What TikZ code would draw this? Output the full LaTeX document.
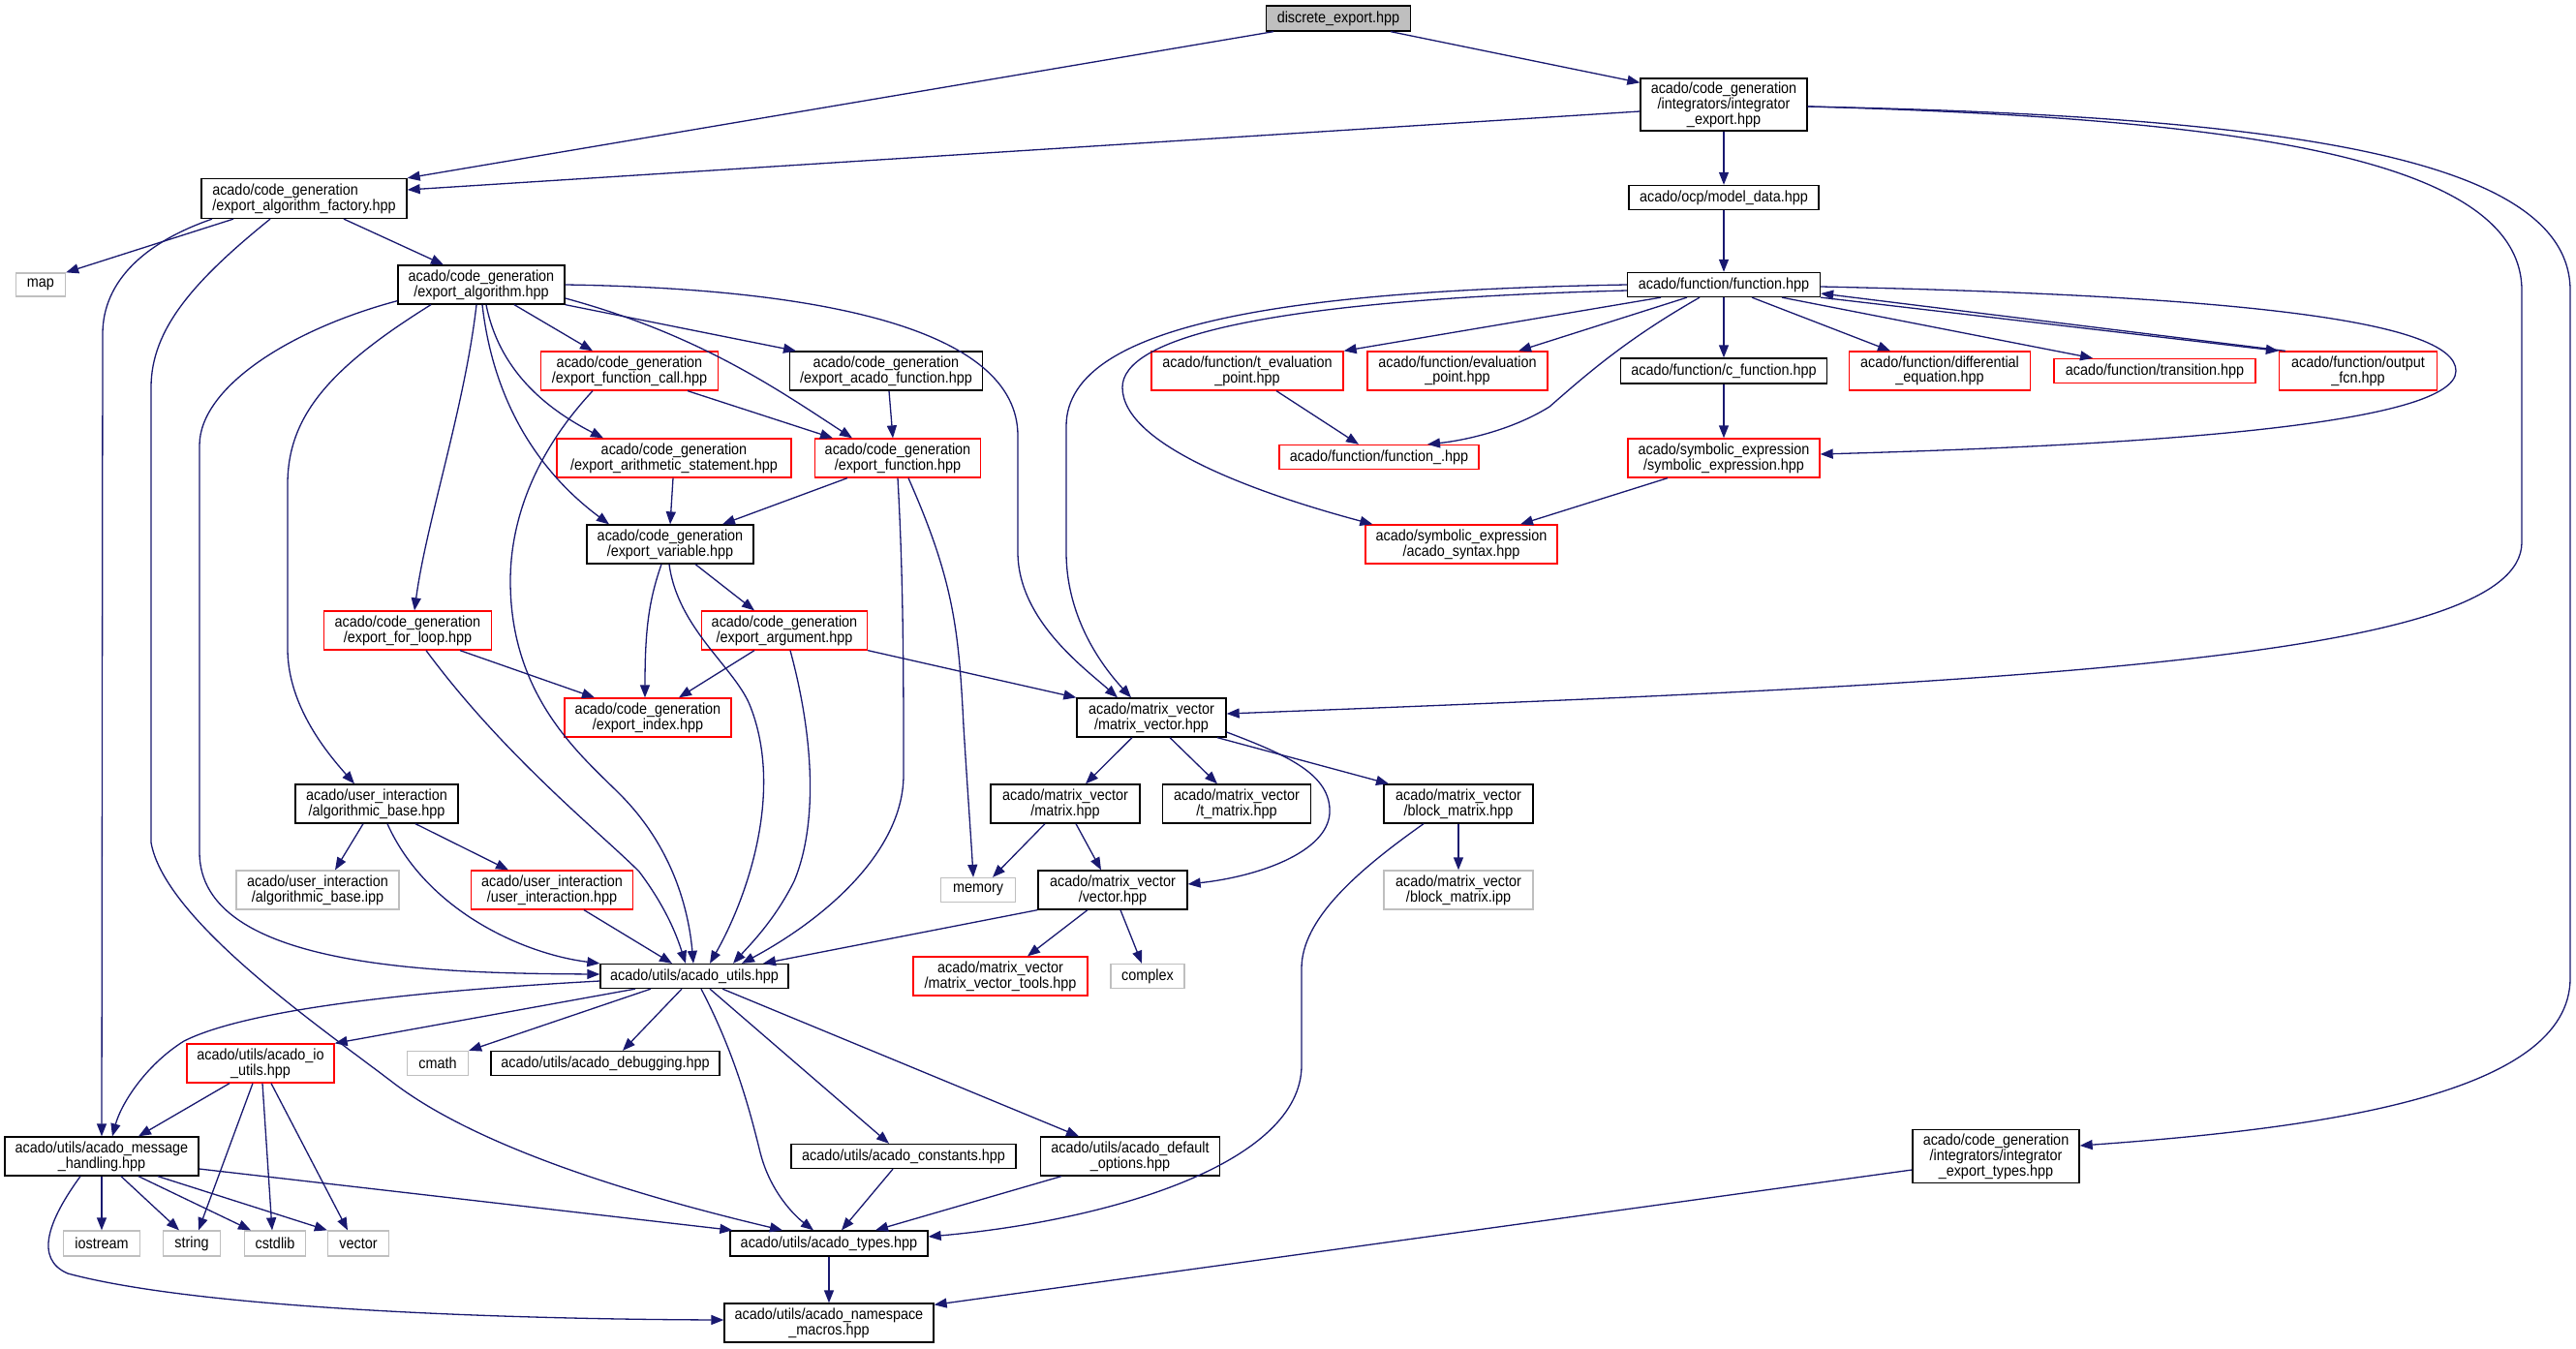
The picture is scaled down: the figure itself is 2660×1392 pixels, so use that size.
\documentclass[tikz,border=0pt]{standalone}
\usepackage{fontspec}
\setmainfont{Liberation Sans}[FakeStretch=0.9]
\usetikzlibrary{arrows.meta}
\definecolor{edgeblue}{RGB}{25,25,112}
\definecolor{lgray}{RGB}{191,191,191}
\begin{document}
\begin{tikzpicture}[x=1pt,y=-1pt,
  box/.style={draw=black, line width=1.3pt, fill=white, inner sep=0pt, align=center, font=\fontsize{16}{14.5}\selectfont},
  rbox/.style={box, draw=red},
  gbox/.style={box, draw=lgray},
  sz/.style n args={2}{minimum width=#1pt, minimum height=#2pt},
  edge/.style={draw=edgeblue, line width=1.3pt, -{Triangle[length=13pt,width=10pt]}},
]
\fill[white] (0,0) rectangle (2660,1392);
\useasboundingbox (0,0) rectangle (2660,1392);

% ---------------- nodes ----------------
\node[box, fill=lgray, sz={149}{26}] (de) at (1382,19) {discrete\_export.hpp};
\node[box, sz={172}{54}] (ie) at (1780,108) {acado/code\_generation\\/integrators/integrator\\\_export.hpp};
\node[box, sz={196}{25}] (md) at (1780,204) {acado/ocp/model\_data.hpp};
\node[box, sz={199}{25}] (fn) at (1780,294) {acado/function/function.hpp};
\node[box, sz={213}{26}] (cf) at (1780,383) {acado/function/c\_function.hpp};
\node[rbox, sz={186}{40}] (ep) at (1505,383) {acado/function/evaluation\\\_point.hpp};
\node[rbox, sz={198}{40}] (tep) at (1288,383) {acado/function/t\_evaluation\\\_point.hpp};
\node[rbox, sz={206}{25}] (fu) at (1424,472) {acado/function/function\_.hpp};
\node[rbox, sz={187}{40}] (dif) at (2003,383) {acado/function/differential\\\_equation.hpp};
\node[rbox, sz={208}{25}] (tr) at (2225,383) {acado/function/transition.hpp};
\node[rbox, sz={163}{40}] (of) at (2435,383) {acado/function/output\\\_fcn.hpp};
\node[rbox, sz={198}{40}] (se) at (1780,473) {acado/symbolic\_expression\\/symbolic\_expression.hpp};
\node[rbox, sz={198}{40}] (syn) at (1509,562) {acado/symbolic\_expression\\/acado\_syntax.hpp};

\node[box, sz={212}{41}, align=left] (eaf) at (314,205) {acado/code\_generation\\/export\_algorithm\_factory.hpp};
\node[gbox, sz={51}{24}] (map) at (42,294) {map};
\node[box, sz={172}{40}] (ea) at (497,294) {acado/code\_generation\\/export\_algorithm.hpp};
\node[rbox, sz={183}{40}] (efc) at (650,383) {acado/code\_generation\\/export\_function\_call.hpp};
\node[box, sz={199}{40}] (eacf) at (915,383) {acado/code\_generation\\/export\_acado\_function.hpp};
\node[rbox, sz={242}{40}] (eas) at (696,473) {acado/code\_generation\\/export\_arithmetic\_statement.hpp};
\node[rbox, sz={171}{40}] (ef) at (927,473) {acado/code\_generation\\/export\_function.hpp};
\node[box, sz={172}{40}] (ev) at (692,562) {acado/code\_generation\\/export\_variable.hpp};
\node[rbox, sz={173}{40}] (efl) at (421,651) {acado/code\_generation\\/export\_for\_loop.hpp};
\node[rbox, sz={171}{40}] (earg) at (810,651) {acado/code\_generation\\/export\_argument.hpp};
\node[rbox, sz={172}{40}] (eidx) at (669,741) {acado/code\_generation\\/export\_index.hpp};

\node[box, sz={154}{40}] (mv) at (1189,741) {acado/matrix\_vector\\/matrix\_vector.hpp};
\node[box, sz={154}{40}] (mat) at (1100,830) {acado/matrix\_vector\\/matrix.hpp};
\node[box, sz={153}{40}] (tmat) at (1277,830) {acado/matrix\_vector\\/t\_matrix.hpp};
\node[box, sz={154}{40}] (bm) at (1506,830) {acado/matrix\_vector\\/block\_matrix.hpp};
\node[gbox, sz={154}{40}] (bmi) at (1506,919) {acado/matrix\_vector\\/block\_matrix.ipp};
\node[gbox, sz={77}{25}] (mem) at (1010,919) {memory};
\node[box, sz={154}{40}] (vec) at (1149,919) {acado/matrix\_vector\\/vector.hpp};
\node[rbox, sz={180}{40}] (mvt) at (1033,1008) {acado/matrix\_vector\\/matrix\_vector\_tools.hpp};
\node[gbox, sz={76}{25}] (cplx) at (1185,1008) {complex};

\node[box, sz={168}{40}] (abh) at (389,830) {acado/user\_interaction\\/algorithmic\_base.hpp};
\node[gbox, sz={168}{40}] (abi) at (328,919) {acado/user\_interaction\\/algorithmic\_base.ipp};
\node[rbox, sz={167}{40}] (ui) at (570,919) {acado/user\_interaction\\/user\_interaction.hpp};
\node[box, sz={194}{25}] (ut) at (717,1008) {acado/utils/acado\_utils.hpp};
\node[rbox, sz={152}{40}] (io) at (269,1098) {acado/utils/acado\_io\\\_utils.hpp};
\node[gbox, sz={63}{25}] (cm) at (452,1098) {cmath};
\node[box, sz={236}{25}] (dbg) at (625,1098) {acado/utils/acado\_debugging.hpp};
\node[box, sz={200}{40}] (amh) at (105,1194) {acado/utils/acado\_message\\\_handling.hpp};
\node[gbox, sz={79}{26}] (ios) at (105,1284) {iostream};
\node[gbox, sz={59}{26}] (str) at (198,1284) {string};
\node[gbox, sz={63}{26}] (csl) at (284,1284) {cstdlib};
\node[gbox, sz={63}{26}] (svec) at (370,1284) {vector};
\node[box, sz={232}{25}] (cst) at (933,1194) {acado/utils/acado\_constants.hpp};
\node[box, sz={185}{40}] (dop) at (1167,1194) {acado/utils/acado\_default\\\_options.hpp};
\node[box, sz={204}{26}] (ty) at (856,1284) {acado/utils/acado\_types.hpp};
\node[box, sz={216}{40}] (ns) at (856,1366) {acado/utils/acado\_namespace\\\_macros.hpp};
\node[box, sz={172}{55}] (iet) at (2061,1194) {acado/code\_generation\\/integrators/integrator\\\_export\_types.hpp};

% ---------------- edges ----------------
% discrete_export
\draw[edge] ([xshift=-67pt]de.south) -- (eaf.north east);
\draw[edge] ([xshift=54pt]de.south) -- ([yshift=-5pt]ie.north west);
% integrator_export
\draw[edge] ([yshift=-7pt]ie.west) -- ([yshift=9pt]eaf.east);
\draw[edge] (ie.south) -- (md.north);
\draw[edge] ([yshift=-2pt]ie.east) .. controls (2300,122) and (2604,160) .. (2604,300) -- (2604,560) .. controls (2604,680) and (2100,705) .. ([yshift=4pt]mv.east);
\draw[edge] ([yshift=-2pt]ie.east) .. controls (2350,120) and (2654,160) .. (2654,300) -- (2654,1010) .. controls (2654,1130) and (2400,1165) .. ([yshift=11pt]iet.east);
% model_data
\draw[edge] (md.south) -- (fn.north);
% export_algorithm_factory
\draw[edge] ([xshift=-73pt]eaf.south) -- (map.north east);
\draw[edge] ([xshift=41pt]eaf.south) -- ([xshift=-39pt]ea.north);
\draw[edge] ([xshift=-95pt]eaf.south) .. controls (150,250) and (106,290) .. (106,345) -- (amh.north);
\draw[edge] ([xshift=-35pt]eaf.south) .. controls (200,290) and (156,340) .. (156,400) -- (156,870) .. controls (170,950) and (330,1060) .. (406,1118) .. controls (500,1190) and (680,1240) .. ([xshift=-48pt]ty.north);
% export_algorithm
\draw[edge] ([yshift=4pt]ea.south west) .. controls (300,340) and (206,400) .. (206,460) -- (206,880) .. controls (206,1000) and (450,1005) .. ([yshift=2pt]ut.west);
\draw[edge] ([xshift=-52pt]ea.south) .. controls (340,380) and (297,430) .. (297,500) -- (297,670) .. controls (297,730) and (340,780) .. ([xshift=-23pt]abh.north);
\draw[edge] ([xshift=-5pt]ea.south) .. controls (480,420) and (440,540) .. ([xshift=7pt]efl.north);
\draw[edge] ([xshift=1pt]ea.south) .. controls (510,420) and (560,490) .. ([xshift=-63pt]ev.north);
\draw[edge] ([xshift=5pt]ea.south) .. controls (515,380) and (560,420) .. ([xshift=-73pt]eas.north);
\draw[edge] ([xshift=34pt]ea.south) -- ([xshift=-38pt]efc.north);
\draw[edge] ([yshift=-14pt]ea.east) .. controls (720,345) and (800,400) .. ([xshift=-47pt]ef.north);
\draw[edge] (ea.south east) -- ([xshift=-93pt]eacf.north);
\draw[edge] (ea.east) .. controls (850,298) and (1051,340) .. (1051,450) -- (1051,570) .. controls (1051,640) and (1120,690) .. ([xshift=-35pt]mv.north);
% export_function_call
\draw[edge] ([xshift=60pt]efc.south) -- ([xshift=-67pt]ef.north);
\draw[edge] ([xshift=-38pt]efc.south) .. controls (550,470) and (527,540) .. (527,600) .. controls (527,720) and (600,780) .. (640,820) .. controls (700,880) and (712,950) .. ([xshift=-1pt]ut.north);
% export_acado_function
\draw[edge] ([xshift=3pt]eacf.south) -- ([xshift=-5pt]ef.north);
% export_arithmetic_statement
\draw[edge] ([xshift=-1pt]eas.south) -- (ev.north);
% export_function
\draw[edge] ([xshift=-52pt]ef.south) -- ([xshift=54pt]ev.north);
\draw[edge] (ef.south) .. controls (933,600) and (933,700) .. (933,800) .. controls (933,880) and (850,950) .. ([xshift=49pt]ut.north);
\draw[edge] ([xshift=11pt]ef.south) .. controls (985,600) and (990,650) .. (995,750) .. controls (1000,830) and (1003,870) .. ([xshift=-5pt]mem.north);
% export_variable
\draw[edge] ([xshift=-9pt]ev.south) .. controls (670,620) and (666,650) .. ([xshift=-3pt]eidx.north);
\draw[edge] ([xshift=-1pt]ev.south) .. controls (700,650) and (760,690) .. (775,730) .. controls (810,820) and (770,930) .. ([xshift=16pt]ut.north);
\draw[edge] ([xshift=26pt]ev.south) -- ([xshift=-31pt]earg.north);
% export_for_loop
\draw[edge] ([xshift=54pt]efl.south) -- ([xshift=-55pt]eidx.north);
\draw[edge] ([xshift=19pt]efl.south) .. controls (520,780) and (620,860) .. (660,900) .. controls (690,940) and (700,970) .. ([xshift=-9pt]ut.north);
% export_argument
\draw[edge] ([xshift=-31pt]earg.south) -- ([xshift=32pt]eidx.north);
\draw[edge] ([xshift=6pt]earg.south) .. controls (840,760) and (845,850) .. (820,910) .. controls (800,950) and (775,975) .. ([xshift=40pt]ut.north);
\draw[edge] (earg.south east) -- (mv.north west);
% matrix_vector
\draw[edge] ([xshift=-20pt]mv.south) -- ([xshift=21pt]mat.north);
\draw[edge] ([xshift=19pt]mv.south) -- ([xshift=-20pt]tmat.north);
\draw[edge] ([xshift=68pt]mv.south) -- ([xshift=-72pt]bm.north);
\draw[edge] ([yshift=-15pt]mv.east) .. controls (1330,780) and (1375,800) .. (1373,840) .. controls (1370,880) and (1300,905) .. ([yshift=6pt]vec.east);
% matrix
\draw[edge] ([xshift=-21pt]mat.south) -- ([xshift=15pt]mem.north);
\draw[edge] ([xshift=11pt]mat.south) -- ([xshift=-12pt]vec.north);
% block_matrix
\draw[edge] (bm.south) -- (bmi.north);
\draw[edge] ([xshift=-36pt]bm.south) .. controls (1400,900) and (1344,950) .. (1344,1000) -- (1344,1100) .. controls (1344,1200) and (1150,1260) .. ([yshift=7pt]ty.east);
% vector
\draw[edge] (vec.south west) -- ([xshift=71pt]ut.north);
\draw[edge] ([xshift=-26pt]vec.south) -- ([xshift=28pt]mvt.north);
\draw[edge] ([xshift=8pt]vec.south) -- ([xshift=-6pt]cplx.north);
% function
\draw[edge] (fn.west) .. controls (1350,300) and (1101,330) .. (1101,440) -- (1101,570) .. controls (1101,640) and (1140,690) .. ([xshift=-21pt]mv.north);
\draw[edge] ([yshift=-6pt]fn.west) .. controls (1300,310) and (1159,350) .. (1159,400) .. controls (1159,460) and (1300,510) .. ([xshift=8pt]syn.north west);
\draw[edge] ([xshift=-65pt]fn.south) -- (tep.north east);
\draw[edge] ([xshift=-38pt]fn.south) -- ([xshift=63pt]ep.north);
\draw[edge] ([xshift=-25pt]fn.south) .. controls (1680,350) and (1640,385) .. (1600,420) .. controls (1560,445) and (1510,455) .. ([xshift=50pt]fu.north);
\draw[edge] (fn.south) -- (cf.north);
\draw[edge] ([xshift=29pt]fn.south) -- ([xshift=-51pt]dif.north);
\draw[edge] ([xshift=60pt]fn.south) -- ([xshift=-64pt]tr.north);
\draw[edge] (fn.south east) -- (of.north west);
\draw[edge] ([xshift=7pt]of.north west) -- ([yshift=-9pt]fn.east);
\draw[edge] ([yshift=-2pt]fn.east) .. controls (2300,305) and (2536,330) .. (2536,383) .. controls (2536,440) and (2200,460) .. ([yshift=4pt]se.east);
% t_evaluation_point, c_function, symbolic_expression
\draw[edge] ([xshift=30pt]tep.south) -- ([xshift=-21pt]fu.north);
\draw[edge] (cf.south) -- (se.north);
\draw[edge] ([xshift=-58pt]se.south) -- ([xshift=61pt]syn.north);
% algorithmic_base
\draw[edge] ([xshift=-14pt]abh.south) -- ([xshift=18pt]abi.north);
\draw[edge] ([xshift=11pt]abh.south) .. controls (440,940) and (540,985) .. (ut.north west);
\draw[edge] ([xshift=40pt]abh.south) -- ([xshift=-45pt]ui.north);
\draw[edge] ([xshift=33pt]ui.south) -- ([xshift=-23pt]ut.north);
% acado_utils
\draw[edge] ([xshift=-61pt]ut.south) -- (io.north east);
\draw[edge] ([xshift=-45pt]ut.south) -- (cm.north east);
\draw[edge] ([xshift=-13pt]ut.south) -- ([xshift=18pt]dbg.north);
\draw[edge] ([yshift=-5pt]ut.west) .. controls (400,1025) and (250,1045) .. (190,1075) .. controls (150,1100) and (125,1140) .. ([xshift=11pt]amh.north);
\draw[edge] ([xshift=16pt]ut.south) -- ([xshift=-15pt]cst.north);
\draw[edge] ([xshift=29pt]ut.south) -- ([xshift=-53pt]dop.north);
\draw[edge] ([xshift=7pt]ut.south) .. controls (760,1090) and (775,1150) .. (785,1190) .. controls (795,1230) and (820,1255) .. ([xshift=-16pt]ty.north);
% acado_io_utils
\draw[edge] ([xshift=-32pt]io.south) -- ([xshift=38pt]amh.north);
\draw[edge] ([xshift=-8pt]io.south) -- ([xshift=7pt]str.north);
\draw[edge] ([xshift=2pt]io.south) -- ([xshift=-3pt]csl.north);
\draw[edge] ([xshift=11pt]io.south) -- ([xshift=-11pt]svec.north);
% acado_message_handling
\draw[edge] (amh.south) -- (ios.north);
\draw[edge] ([xshift=20pt]amh.south) -- ([xshift=-13pt]str.north);
\draw[edge] ([xshift=38pt]amh.south) -- ([xshift=-25pt]csl.north);
\draw[edge] ([xshift=58pt]amh.south) -- (svec.north west);
\draw[edge] ([yshift=-13pt]amh.east) -- ([xshift=3pt]ty.north west);
\draw[edge] ([xshift=-22pt]amh.south) .. controls (50,1260) and (35,1300) .. (70,1315) .. controls (200,1350) and (500,1362) .. ([yshift=3pt]ns.west);
% constants, default options, types, integrator export types
\draw[edge] ([xshift=-11pt]cst.south) -- ([xshift=13pt]ty.north);
\draw[edge] ([xshift=-71pt]dop.south) -- ([xshift=48pt]ty.north);
\draw[edge] (ty.south) -- (ns.north);
\draw[edge] ([yshift=-14pt]iet.west) -- ([yshift=-2pt]ns.north east);
\end{tikzpicture}
\end{document}
